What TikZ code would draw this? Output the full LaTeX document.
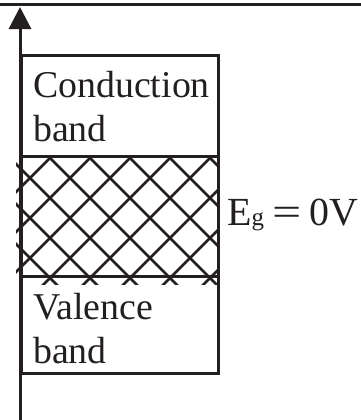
\documentclass[tikz,border=0pt]{standalone}
\usepackage{fontspec}
\setmainfont{Liberation Serif}
\usetikzlibrary{arrows.meta}
\definecolor{ink}{RGB}{35,31,32}
\tikzset{
  >={Triangle[length=22bp,width=22bp]},
  edge/.style={draw=ink,line width=3bp},
  hatch/.style={draw=ink,line width=2.6bp},
  bandbox/.style={draw=ink,line width=3bp,minimum width=197bp,anchor=north west,
    inner sep=0pt,outer sep=0pt},
  bandtext/.style={font=\fontsize{38}{44}\selectfont,text=ink,inner sep=0pt,
    anchor=base west,align=left},
}
\begin{document}
\begin{tikzpicture}[x=1bp,y=-1bp]
  \useasboundingbox (0,0) rectangle (361,420);
  \coordinate (top l) at (0,4);
  \coordinate (top r) at (361,4);
  \draw[edge] (top l) -- (top r);
  % crossed lines of the gap
  \begin{scope}
    \clip (16,156) rectangle (218,284);
    \foreach \c in {-52,-12,...,228} \draw[hatch] (0,\c) -- (300,300+\c);
    \foreach \d in {208,248,...,488} \draw[hatch] (0,\d) -- (300,\d-300);
  \end{scope}
  \node[bandbox,minimum height=101bp] (cond) at (21,55) {};
  \node[bandbox,minimum height=120bp] (gap) at (cond.south west) {};
  \node[bandbox,minimum height=97bp] (val) at (gap.south west) {};
  % energy axis
  \coordinate (axis bottom) at (20,420);
  \coordinate (axis top) at (20,7);
  \draw[edge,->] (axis bottom) -- (axis top);
  \node[bandtext] (cond text) at (33,141) {Conduction\\band};
  \node[bandtext] (val text) at (33,363) {Valence\\band};
  \node[bandtext,font=\fontsize{40}{44}\selectfont] (eg) at (227,225)
    {E{\fontsize{25}{25}\selectfont g}\hspace{9bp}\scalebox{1.3}[1]{=}\hspace{7bp}0V};
\end{tikzpicture}
\end{document}
